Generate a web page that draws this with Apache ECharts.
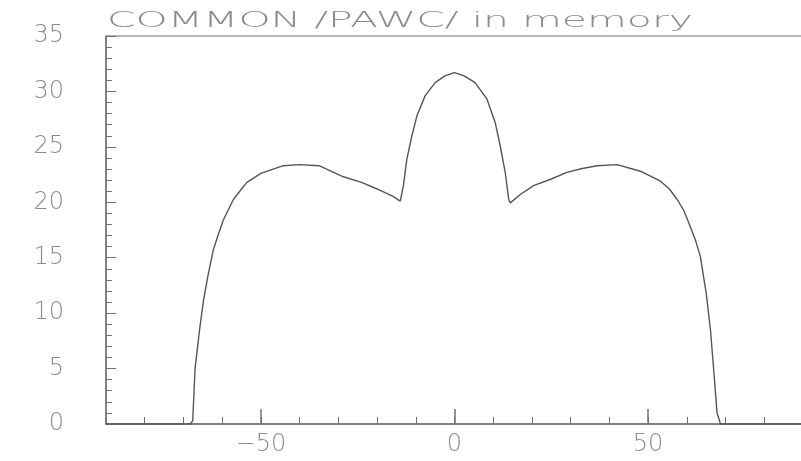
<!DOCTYPE html>
<html>
<head>
<meta charset="utf-8">
<script src="https://cdn.jsdelivr.net/npm/echarts@6/dist/echarts.min.js"></script>
<style>html,body{margin:0;padding:0;background:#fff}#c{width:801px;height:461px}</style>
</head>
<body>
<div id="c"></div>
<script>
const titleText = 'COMMON /PAWC/ in memory';
const xValues = [-90, -68.2, -67.6, -67.0, -65.8, -64.8, -63.6, -62.3, -61.0, -59.7, -57.1, -55.0, -53.6, -50.0, -44.2, -40.0, -35.0, -28.7, -24.0, -20.0, -16.0, -14.0, -13.6, -13.2, -12.3, -11.0, -9.7, -7.6, -5.0, -2.5, 0, 2.5, 5.3, 8.4, 10.5, 11.8, 13.1, 14.0, 14.4, 17.0, 20.4, 25.0, 29.0, 33.0, 36.8, 42.0, 48.0, 53.2, 55.5, 57.5, 59.3, 60.9, 62.3, 63.5, 65.0, 66.1, 67.0, 67.8, 68.7, 90];
const yValues = [0, 0, 0.3, 5.0, 8.6, 11.2, 13.5, 15.7, 17.1, 18.4, 20.25, 21.2, 21.8, 22.6, 23.3, 23.4, 23.3, 22.3, 21.8, 21.2, 20.55, 20.1, 20.0, 21.5, 23.9, 26.0, 27.8, 29.6, 30.8, 31.4, 31.7, 31.4, 30.8, 29.3, 27.2, 25.1, 22.7, 20.25, 19.95, 20.7, 21.5, 22.1, 22.7, 23.05, 23.3, 23.4, 22.8, 21.9, 21.2, 20.25, 19.2, 17.8, 16.5, 15.1, 11.8, 8.5, 4.6, 1.0, 0, 0];
const xMajorTicks = [-50, 0, 50];
const xTickLabels = ['\u221250', '0', '50'];

const lineCol = '#707070';
const textCol = '#8c8c8c';
const font = 'DejaVu Sans';

const chart = echarts.init(document.getElementById('c'), null, {renderer: 'canvas'});
chart.setOption({
  animation: false,
  backgroundColor: '#fff',
  grid: {left: 106, top: 36, width: 697, height: 388, show: true, borderColor: lineCol, borderWidth: 1, backgroundColor: 'transparent', containLabel: false, outerBoundsMode: 'none'},
  graphic: [{
    type: 'text', x: 107, y: 21, scaleX: 1.86,
    style: {text: titleText, fill: textCol, font: '200 22px "' + font + '"', align: 'left', verticalAlign: 'middle'}
  }],
  xAxis: [{
    type: 'value', min: -90, max: 90, position: 'bottom',
    axisLine: {show: true, onZero: false, lineStyle: {color: lineCol, width: 1.5}},
    axisTick: {show: true, inside: true, length: 15, customValues: xMajorTicks, lineStyle: {color: lineCol, width: 1.5}},
    axisLabel: {show: true, customValues: xMajorTicks, margin: 9, color: textCol, fontFamily: font, fontWeight: 200, fontSize: 24,
      formatter: function (v) { const i = xMajorTicks.indexOf(v); return i >= 0 ? xTickLabels[i] : ''; }},
    splitLine: {show: false}
  }, {
    type: 'value', min: -90, max: 90, interval: 10, position: 'bottom', offset: 0,
    axisLine: {show: false},
    axisTick: {show: true, inside: true, length: 7, lineStyle: {color: lineCol, width: 1}},
    axisLabel: {show: false},
    splitLine: {show: false}
  }],
  yAxis: {
    type: 'value', min: 0, max: 35, interval: 5,
    axisLine: {show: true, onZero: false, lineStyle: {color: lineCol, width: 1.5}},
    axisTick: {show: true, inside: true, length: 10, lineStyle: {color: lineCol, width: 1}},
    minorTick: {show: true, splitNumber: 5, length: 6, lineStyle: {color: lineCol, width: 1}},
    axisLabel: {show: true, margin: 42, color: textCol, fontFamily: font, fontWeight: 200, fontSize: 24},
    splitLine: {show: false}
  },
  series: [{
    type: 'line', xAxisIndex: 0, yAxisIndex: 0,
    data: xValues.map((x, i) => [x, yValues[i]]),
    showSymbol: false, smooth: false,
    lineStyle: {color: '#555', width: 1.4}
  }]
});
</script>
</body>
</html>
